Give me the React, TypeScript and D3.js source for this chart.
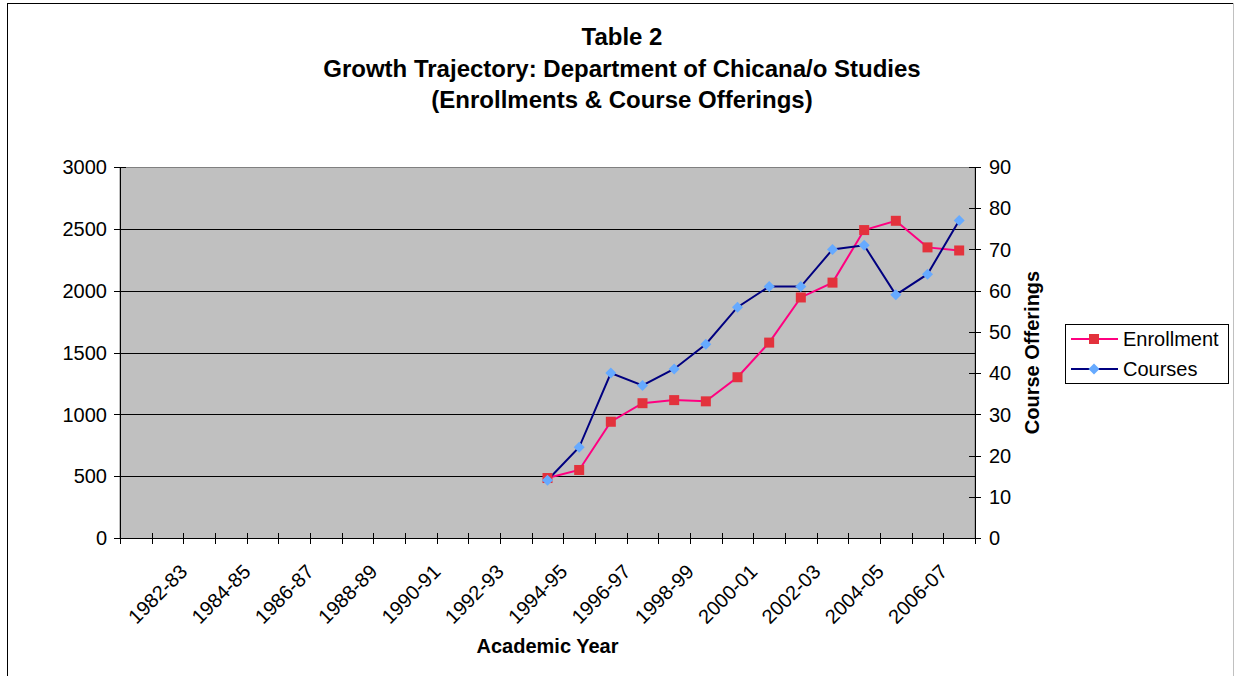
import React from "react"
import * as d3 from "d3"

const categories = [
  "1981-82", "1982-83", "1983-84", "1984-85", "1985-86", "1986-87", "1987-88",
  "1988-89", "1989-90", "1990-91", "1991-92", "1992-93", "1993-94", "1994-95",
  "1995-96", "1996-97", "1997-98", "1998-99", "1999-00", "2000-01", "2001-02",
  "2002-03", "2003-04", "2004-05", "2005-06", "2006-07", "2007-08",
]

const enrollment: (number | null)[] = [
  null, null, null, null, null, null, null, null, null, null, null, null, null,
  485, 550, 940, 1090, 1115, 1105, 1300, 1580, 1945, 2065, 2490, 2565, 2350, 2325,
]

const courses: (number | null)[] = [
  null, null, null, null, null, null, null, null, null, null, null, null, null,
  14, 22, 40, 37, 41, 47, 56, 61, 61, 70, 71, 59, 64, 77,
]

const leftTicks = [0, 500, 1000, 1500, 2000, 2500, 3000]
const rightTicks = [0, 10, 20, 30, 40, 50, 60, 70, 80, 90]

const titleLines = [
  "Table 2",
  "Growth Trajectory: Department of Chicana/o Studies",
  "(Enrollments & Course Offerings)",
]

const FONT = "'Liberation Sans', Arial, sans-serif"
const ENR_LINE = "#FF0080"
const ENR_MARK = "#E3323C"
const CRS_LINE = "#000080"
const CRS_MARK = "#66AAFF"

export default function App() {
  const W = 1235
  const H = 676
  const plot = { left: 120, right: 975, top: 167, bottom: 538 }

  const x = d3.scaleBand<string>().domain(categories).range([plot.left, plot.right]).padding(0)
  const yL = d3.scaleLinear().domain([0, 3000]).range([plot.bottom, plot.top])
  const yR = d3.scaleLinear().domain([0, 90]).range([plot.bottom, plot.top])
  const cx = (c: string) => (x(c) ?? 0) + x.bandwidth() / 2

  const enrLine = d3.line<number | null>()
    .defined(d => d != null)
    .x((_, i) => cx(categories[i]))
    .y(d => yL(d as number))
  const crsLine = d3.line<number | null>()
    .defined(d => d != null)
    .x((_, i) => cx(categories[i]))
    .y(d => yR(d as number))

  const boundaries = categories.map(c => x(c) ?? 0).concat([plot.right])

  const square = (px: number, py: number, key: string | number) => (
    <rect key={key} x={px - 5} y={py - 5} width={10} height={10} fill={ENR_MARK} />
  )
  const diamond = (px: number, py: number, key: string | number) => (
    <path key={key} d={`M${px},${py - 5.5}L${px + 5.5},${py}L${px},${py + 5.5}L${px - 5.5},${py}Z`} fill={CRS_MARK} />
  )

  return (
    <div style={{ position: "absolute", left: 0, top: 0 }}>
      <svg width={W} height={H} style={{ display: "block", fontFamily: FONT }}>
        <rect x={0} y={0} width={W} height={H} fill="#fff" />
        {/* chart frame */}
        <line x1={7.5} y1={3} x2={7.5} y2={H} stroke="#000" />
        <line x1={7} y1={3.5} x2={1234} y2={3.5} stroke="#000" />
        <line x1={1233.5} y1={3} x2={1233.5} y2={H} stroke="#c0c0c0" />

        {titleLines.map((t, i) => (
          <text key={i} x={622} y={45 + i * 31.5} textAnchor="middle" fontSize={24} fontWeight="bold">{t}</text>
        ))}

        {/* plot area */}
        <rect x={plot.left} y={plot.top + 0.5} width={plot.right - plot.left} height={plot.bottom - plot.top} fill="#C0C0C0" stroke="#808080" />
        {leftTicks.slice(1, -1).map(v => (
          <line key={v} x1={plot.left} x2={plot.right} y1={Math.round(yL(v)) + 0.5} y2={Math.round(yL(v)) + 0.5} stroke="#000" />
        ))}

        {/* left axis */}
        <line x1={plot.left + 0.5} x2={plot.left + 0.5} y1={plot.top} y2={plot.bottom} stroke="#000" />
        {leftTicks.map(v => (
          <g key={v}>
            <line x1={plot.left - 6} x2={plot.left + 6} y1={Math.round(yL(v)) + 0.5} y2={Math.round(yL(v)) + 0.5} stroke="#000" />
            <text x={107} y={yL(v)} dy="0.36em" textAnchor="end" fontSize={20}>{v}</text>
          </g>
        ))}

        {/* right axis */}
        <line x1={plot.right + 0.5} x2={plot.right + 0.5} y1={plot.top} y2={plot.bottom} stroke="#000" />
        {rightTicks.map(v => (
          <g key={v}>
            <line x1={plot.right - 6} x2={plot.right + 6} y1={Math.round(yR(v)) + 0.5} y2={Math.round(yR(v)) + 0.5} stroke="#000" />
            <text x={989} y={yR(v)} dy="0.36em" textAnchor="start" fontSize={20}>{v}</text>
          </g>
        ))}
        <text transform={`translate(1039,${(plot.top + plot.bottom) / 2 - 0}) rotate(-90)`} textAnchor="middle" fontSize={20} fontWeight="bold">Course Offerings</text>

        {/* x axis */}
        <line x1={plot.left - 6} x2={plot.right} y1={plot.bottom + 0.5} y2={plot.bottom + 0.5} stroke="#000" />
        {boundaries.map((b, i) => (
          <line key={i} x1={Math.round(b) + 0.5} x2={Math.round(b) + 0.5} y1={plot.bottom - 5} y2={plot.bottom + 6} stroke="#000" />
        ))}
        {categories.map((c, i) => i % 2 === 1 ? (
          <text key={c} transform={`translate(${cx(c) + 21},573) rotate(-45)`} textAnchor="end" fontSize={20}>{c}</text>
        ) : null)}
        <text x={(plot.left + plot.right) / 2} y={653} textAnchor="middle" fontSize={20} fontWeight="bold">Academic Year</text>

        {/* series */}
        <path d={enrLine(enrollment) ?? ""} fill="none" stroke={ENR_LINE} strokeWidth={2} />
        <path d={crsLine(courses) ?? ""} fill="none" stroke={CRS_LINE} strokeWidth={2} />
        {enrollment.map((v, i) => v == null ? null : square(cx(categories[i]), yL(v), i))}
        {courses.map((v, i) => v == null ? null : diamond(cx(categories[i]), yR(v), i))}

        {/* legend */}
        <rect x={1065.5} y={324.5} width={163} height={59} fill="#fff" stroke="#000" />
        <line x1={1071} x2={1118} y1={339} y2={339} stroke={ENR_LINE} strokeWidth={2} />
        {square(1094, 339, "ls")}
        <text x={1123} y={339} dy="0.36em" fontSize={20}>Enrollment</text>
        <line x1={1071} x2={1118} y1={369} y2={369} stroke={CRS_LINE} strokeWidth={2} />
        {diamond(1094, 369, "ld")}
        <text x={1123} y={369} dy="0.36em" fontSize={20}>Courses</text>
      </svg>
    </div>
  )
}
